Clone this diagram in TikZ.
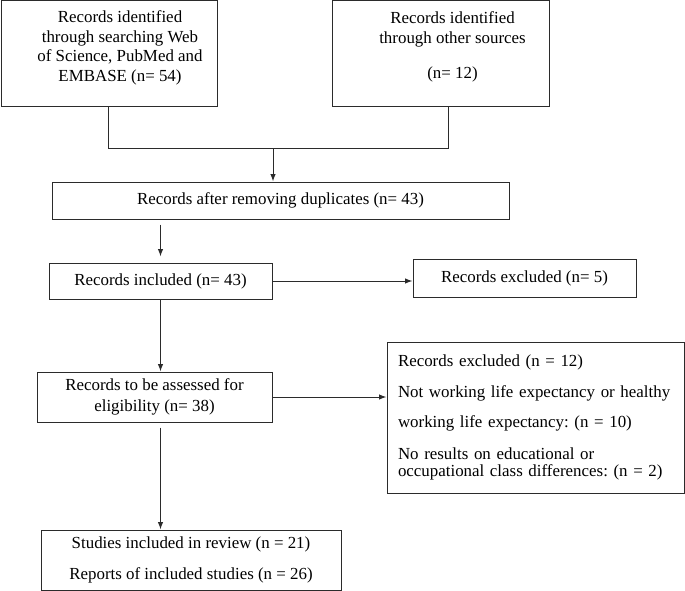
\documentclass[tikz,border=0pt]{standalone}
\usepackage{fontspec}
\setmainfont{Liberation Serif}
\usetikzlibrary{arrows.meta,positioning,calc}
\frenchspacing

\definecolor{linegray}{HTML}{2B2B2B}

\begin{document}
\begin{tikzpicture}[x=1pt, y=-1pt, >={Latex[length=7.5pt,width=5.5pt]},
  box/.style={draw=linegray, line width=1pt, inner sep=0pt, align=center,
    font=\fontsize{16.9}{19.7}\selectfont},
  link/.style={draw=linegray, line width=1pt}]
  \useasboundingbox (0,0) rectangle (685,591);

  % Quellen der Datensätze
  \node[box, minimum width=216, minimum height=106] (srcdb) at (109,54)
    {\begin{tabular}{@{\hspace{22pt}}c@{}}Records identified\\through searching Web\\of Science, PubMed and\\EMBASE (n= 54)\\[12pt]\end{tabular}};
  \node[box, minimum width=217, minimum height=106] (srcother) at (440.5,54)
    {\begin{tabular}{@{\hspace{24pt}}c@{}}Records identified\\through other sources\\[15pt](n= 12)\\[14pt]\end{tabular}};

  % Hauptstrang
  \node[box, minimum width=457, minimum height=37] (dedup) at (280.5,200.5)
    {Records after removing duplicates (n= 43)};
  \node[box, minimum width=223, minimum height=36] (incl) at (160.5,281)
    {Records included (n= 43)};
  \node[box, minimum width=223, minimum height=38] (excl) at (524.5,278)
    {Records excluded (n= 5)};
  \node[box, minimum width=235, minimum height=50] (assess) at (154.5,397)
    {Records to be assessed for\\[1.5pt]eligibility (n= 38)};
  \node[box, minimum width=297, minimum height=151, inner xsep=11pt,
    text width=275pt, align=left, font=\fontsize{16.9}{17}\selectfont] (exclelig) at (535.5,417.5)
    {Records excluded (n = 12)\\[14.5pt]
     Not working life expectancy or healthy\\[13pt]
     working life expectancy: (n = 10)\\[15pt]
     No results on educational or\\
     occupational class differences: (n = 2)};
  \node[box, minimum width=300, minimum height=60] (studies) at (191,560)
    {Studies included in review (n = 21)\\[11.5pt]Reports of included studies (n = 26)};

  % Verbindungen
  \coordinate (joinL) at (108,148);
  \coordinate (joinR) at (448,148);
  \coordinate (join) at (273,148);
  \draw[link] (joinL |- srcdb.south) -- (joinL) -- (joinR) -- (joinR |- srcother.south);
  \draw[link,->] (join) -- (join |- dedup.north);
  \draw[link,->,shorten <=5pt,shorten >=6pt] (incl.north |- dedup.south) -- (incl.north);
  \draw[link,->] (incl.east) -- (incl.east -| excl.west);
  \draw[link,->] (incl.south) -- (incl.south |- assess.north);
  \draw[link,->] (assess.east) -- (assess.east -| exclelig.west);
  \draw[link,->,shorten <=5pt] (incl.south |- assess.south) -- (incl.south |- studies.north);
\end{tikzpicture}
\end{document}
